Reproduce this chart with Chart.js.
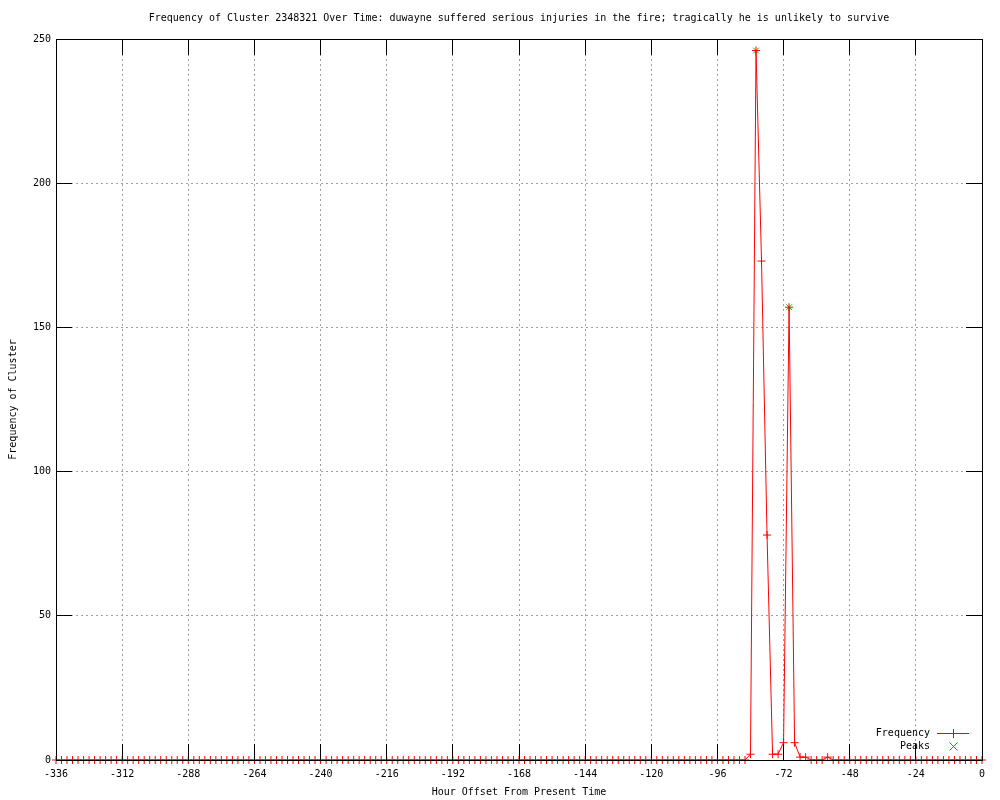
<!DOCTYPE html>
<html>
<head>
<meta charset="utf-8">
<script src="https://cdn.jsdelivr.net/npm/chart.js@4"></script>
<style>
  html, body { margin: 0; padding: 0; background: #fff; }
  #wrap { width: 1000px; height: 800px; }
</style>
</head>
<body>
<div id="wrap"><canvas id="cluster-chart" width="1000" height="800"></canvas></div>
<script>
const chartTitle = 'Frequency of Cluster 2348321 Over Time: duwayne suffered serious injuries in the fire; tragically he is unlikely to survive';

// hour offsets, one sample every 2 hours
const hours = [
  -336, -334, -332, -330, -328, -326, -324, -322, -320, -318, -316, -314, -312, -310, -308, -306, -304, -302, -300, -298,
  -296, -294, -292, -290, -288, -286, -284, -282, -280, -278, -276, -274, -272, -270, -268, -266, -264, -262, -260, -258,
  -256, -254, -252, -250, -248, -246, -244, -242, -240, -238, -236, -234, -232, -230, -228, -226, -224, -222, -220, -218,
  -216, -214, -212, -210, -208, -206, -204, -202, -200, -198, -196, -194, -192, -190, -188, -186, -184, -182, -180, -178,
  -176, -174, -172, -170, -168, -166, -164, -162, -160, -158, -156, -154, -152, -150, -148, -146, -144, -142, -140, -138,
  -136, -134, -132, -130, -128, -126, -124, -122, -120, -118, -116, -114, -112, -110, -108, -106, -104, -102, -100, -98,
  -96, -94, -92, -90, -88, -86, -84, -82, -80, -78, -76, -74, -72, -70, -68, -66, -64, -62, -60, -58,
  -56, -54, -52, -50, -48, -46, -44, -42, -40, -38, -36, -34, -32, -30, -28, -26, -24, -22, -20, -18,
  -16, -14, -12, -10, -8, -6, -4, -2, 0
];

const frequency = [
  0, 0, 0, 0, 0, 0, 0, 0, 0, 0, 0, 0, 0, 0, 0, 0, 0, 0, 0, 0,
  0, 0, 0, 0, 0, 0, 0, 0, 0, 0, 0, 0, 0, 0, 0, 0, 0, 0, 0, 0,
  0, 0, 0, 0, 0, 0, 0, 0, 0, 0, 0, 0, 0, 0, 0, 0, 0, 0, 0, 0,
  0, 0, 0, 0, 0, 0, 0, 0, 0, 0, 0, 0, 0, 0, 0, 0, 0, 0, 0, 0,
  0, 0, 0, 0, 0, 0, 0, 0, 0, 0, 0, 0, 0, 0, 0, 0, 0, 0, 0, 0,
  0, 0, 0, 0, 0, 0, 0, 0, 0, 0, 0, 0, 0, 0, 0, 0, 0, 0, 0, 0,
  0, 0, 0, 0, 0, 0, 2, 246, 173, 78, 2, 2, 6, 157, 6, 1, 1, 0, 0, 0,
  1, 0, 0, 0, 0, 0, 0, 0, 0, 0, 0, 0, 0, 0, 0, 0, 0, 0, 0, 0,
  0, 0, 0, 0, 0, 0, 0, 0, 0
];

const peakHours = [-82, -70];
const peakValues = [246, 157];

const seriesNames = ['Frequency', 'Peaks'];
const seriesColors = ['#ff0000', '#00c000'];

const monoFont = { family: '"DejaVu Sans Mono", "Liberation Mono", monospace', size: 10 };

// same snapping Chart.js uses for 1px grid lines
const snap = p => Math.round(p - 0.5) + 0.5;

// gnuplot-style frame: title over the plot, black border, inward ticks, legend inside bottom right
const framePlugin = {
  id: 'frame',
  afterDatasetsDraw(chart) {
    const { ctx, chartArea: a, scales } = chart;
    const tick = 16;
    ctx.save();
    ctx.setLineDash([]);

    ctx.font = `${monoFont.size}px ${monoFont.family}`;
    ctx.fillStyle = '#000';
    ctx.textAlign = 'center';
    ctx.textBaseline = 'middle';
    ctx.fillText(chartTitle, (a.left + a.right) / 2, 18);

    ctx.strokeStyle = '#000';
    ctx.lineWidth = 1;
    ctx.beginPath();
    scales.x.ticks.forEach(t => {
      const px = snap(scales.x.getPixelForValue(t.value));
      ctx.moveTo(px, a.bottom); ctx.lineTo(px, a.bottom - tick);
      ctx.moveTo(px, a.top); ctx.lineTo(px, a.top + tick);
    });
    scales.y.ticks.forEach(t => {
      const py = snap(scales.y.getPixelForValue(t.value));
      ctx.moveTo(a.left, py); ctx.lineTo(a.left + tick, py);
      ctx.moveTo(a.right, py); ctx.lineTo(a.right - tick, py);
    });
    ctx.stroke();
    ctx.strokeRect(snap(a.left), snap(a.top),
      Math.round(a.right - a.left), Math.round(a.bottom - a.top));

    // legend
    ctx.textAlign = 'right';
    const textX = a.right - 52, rowY = [Math.round(a.bottom - 27), Math.round(a.bottom - 14)];
    ctx.fillText(seriesNames[0], textX, rowY[0]);
    ctx.fillText(seriesNames[1], textX, rowY[1]);
    const mx = Math.round(a.right - 29);
    ctx.fillStyle = seriesColors[0];
    ctx.fillRect(Math.round(a.right - 45), rowY[0], 32, 1);
    ctx.fillRect(mx, rowY[0] - 4, 1, 9);
    ctx.strokeStyle = seriesColors[1];
    ctx.beginPath();
    ctx.moveTo(mx - 3.5, rowY[1] - 3.5); ctx.lineTo(mx + 4.5, rowY[1] + 4.5);
    ctx.moveTo(mx + 4.5, rowY[1] - 3.5); ctx.lineTo(mx - 3.5, rowY[1] + 4.5);
    ctx.stroke();
    ctx.restore();
  }
};

const freqPoints = hours.map((h, i) => ({ x: h, y: frequency[i] }));
const peakPoints = peakHours.map((h, i) => ({ x: h, y: peakValues[i] }));

const gridStyle = { color: '#a0a0a0', lineWidth: 1, drawTicks: false };
const dottedBorder = { display: false, dash: [2, 3] };

new Chart(document.getElementById('cluster-chart').getContext('2d'), {
  type: 'line',
  data: {
    datasets: [
      {
        label: seriesNames[0],
        data: freqPoints,
        clip: false,
        borderColor: seriesColors[0],
        backgroundColor: seriesColors[0],
        borderWidth: 1,
        tension: 0,
        fill: false,
        pointStyle: 'cross',
        pointRadius: 4,
        pointBorderWidth: 1,
        pointBorderColor: seriesColors[0]
      },
      {
        label: seriesNames[1],
        data: peakPoints,
        clip: false,
        showLine: false,
        borderColor: seriesColors[1],
        backgroundColor: seriesColors[1],
        pointStyle: 'crossRot',
        pointRadius: 4,
        pointBorderWidth: 1,
        pointBorderColor: seriesColors[1]
      }
    ]
  },
  options: {
    responsive: false,
    animation: false,
    layout: { padding: { left: 0, right: 18, top: 39, bottom: 0 } },
    font: monoFont,
    scales: {
      x: {
        type: 'linear',
        min: -336,
        max: 0,
        ticks: { stepSize: 24, color: '#000', font: monoFont, padding: 8, maxRotation: 0, autoSkip: false },
        grid: gridStyle,
        border: dottedBorder,
        title: { display: true, text: 'Hour Offset From Present Time', color: '#000', font: monoFont, padding: { top: 0, bottom: 2 } },
        afterFit(scale) { scale.height = 40; }
      },
      y: {
        min: 0,
        max: 250,
        ticks: { stepSize: 50, color: '#000', font: monoFont, padding: 5 },
        grid: gridStyle,
        border: dottedBorder,
        title: { display: true, text: 'Frequency of Cluster', color: '#000', font: monoFont, padding: { top: 7, bottom: 0 } },
        afterFit(scale) { scale.width = 56; }
      }
    },
    plugins: {
      legend: { display: false },
      tooltip: { enabled: false },
      title: { display: false }
    }
  },
  plugins: [framePlugin]
});
</script>
</body>
</html>
